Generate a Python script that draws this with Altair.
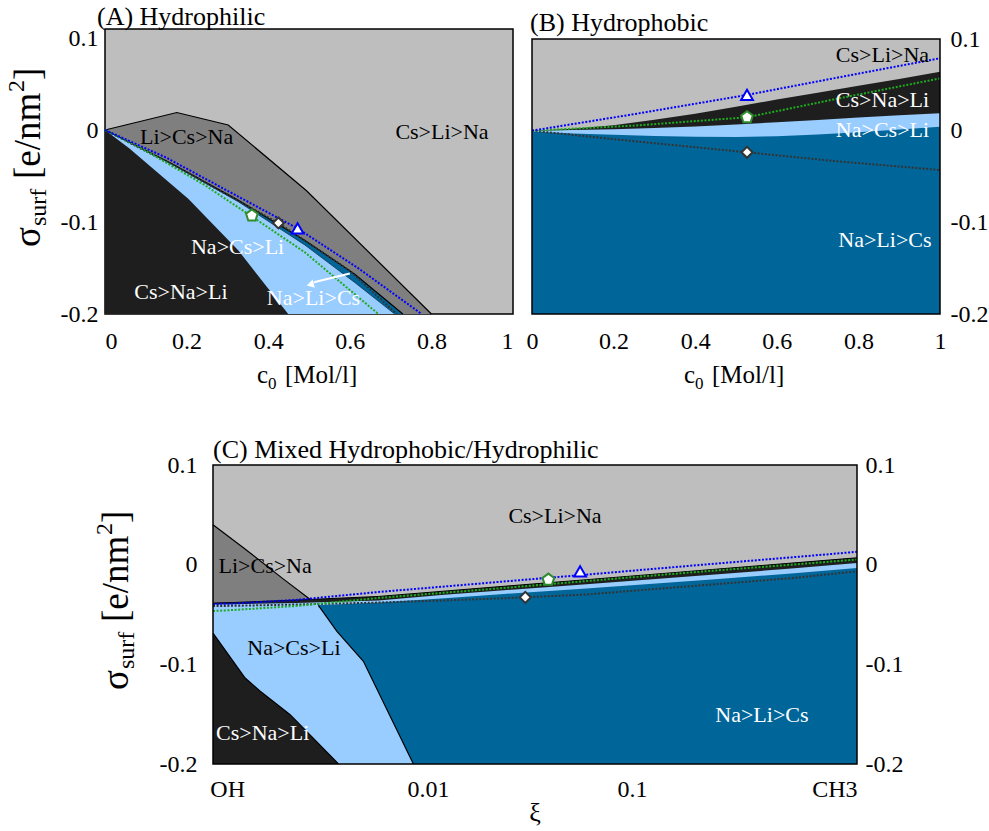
import altair as alt
import pandas as pd

FONT = "Liberation Serif"
COL_LGRAY = "#bebebe"; COL_MGRAY = "#7f7f7f"; COL_BLACK = "#1e1e1e"
COL_LBLUE = "#99ccff"; COL_DBLUE = "#006699"
COL_BLUEDOT = "#0000ff"; COL_GREENDOT = "#1faa1f"; COL_DARKDOT = "#333333"; COL_PENT = "#2e8b2e"

# ---------------- axes ----------------
Y_TICKS = [-0.2, -0.1, 0, 0.1]
AB_X_TICKS = [0, 0.2, 0.4, 0.6, 0.8, 1]
C_X_TICKS = [0.001, 0.01, 0.1, 1]
C_X_LABELS = ["OH", "0.01", "0.1", "CH3"]
C_X_LABEL_SHIFT = [-6, -13, -17, 0]

TITLE_A = "(A) Hydrophilic"
TITLE_B = "(B) Hydrophobic"
TITLE_C = "(C) Mixed Hydrophobic/Hydrophilic"
XTITLE_AB = ["c", "0", "[Mol/l]"]
XTITLE_C = "ξ"
YTITLE = ["σ", "surf", "[e/nm", "2", "]"]

# ---------------- panel A ----------------
A_B1_X = [0, 0.176, 0.302, 0.494, 0.80]
A_B1_Y = [0, 0.019, 0.0055, -0.066, -0.2]
A_B2_X = [0, 0.163, 0.327, 0.49, 0.613, 0.73]
A_B2_Y = [0, -0.0364, -0.0765, -0.120, -0.157, -0.2]
A_B3_X = [0, 0.163, 0.327, 0.49, 0.613, 0.71]
A_B3_Y = [0, -0.037, -0.078, -0.125, -0.166, -0.2]
A_B4_X = [0, 0.06, 0.123, 0.204, 0.327, 0.449]
A_B4_Y = [0, -0.02, -0.044, -0.0747, -0.131, -0.2]
A_BLUE_X = [0, 0.15, 0.3, 0.472, 0.62, 0.776]
A_BLUE_Y = [0, -0.03, -0.066, -0.107, -0.150, -0.2]
A_GREEN_X = [0, 0.082, 0.245, 0.36, 0.49, 0.67]
A_GREEN_Y = [0, -0.018, -0.060, -0.094, -0.133, -0.2]
A_DARK_X = [0, 0.2, 0.425, 0.6, 0.715]
A_DARK_Y = [0, -0.046, -0.101, -0.153, -0.2]
A_TRI = ([0.472], [-0.107])
A_PENT = ([0.36], [-0.093])
A_DIAM = ([0.425], [-0.101])
A_ARROW_X = [0.60, 0.512]
A_ARROW_Y = [-0.156, -0.1655]
A_HEAD = ([0.503], [-0.168])
A_LAB_BLACK = ["Li>Cs>Na", "Cs>Li>Na"]
A_LAB_BLACK_X = [0.200, 0.826]
A_LAB_BLACK_Y = [-0.0073, -0.0018]
A_LAB_WHITE = ["Na>Cs>Li", "Cs>Na>Li", "Na>Li>Cs"]
A_LAB_WHITE_X = [0.325, 0.186, 0.511]
A_LAB_WHITE_Y = [-0.1268, -0.1758, -0.183]

# ---------------- panel B ----------------
B_X = [0, 0.1, 0.2, 0.3, 0.4, 0.5, 0.6, 0.7, 0.8, 0.9, 1.0]
B_TOP = [0, 0.0022, 0.006, 0.012, 0.0185, 0.026, 0.034, 0.0415, 0.049, 0.0565, 0.0644]
B_MID = [0, 0.0007, 0.0016, 0.0028, 0.0045, 0.0068, 0.0092, 0.0117, 0.0144, 0.0168, 0.019]
B_BOT = [-0.001, -0.003, -0.0045, -0.0057, -0.0065, -0.0068, -0.006, -0.0042, -0.0018, 0.0012, 0.0044]
B_DOT_X = [0, 0.25, 0.527, 0.75, 1.0]
B_BLUE_Y = [0, 0.018, 0.039, 0.058, 0.079]
B_GREEN_Y = [0, 0.0055, 0.0146, 0.035, 0.057]
B_DARK_Y = [0, -0.0115, -0.0236, -0.0335, -0.0429]
B_TRI = ([0.527], [0.039])
B_PENT = ([0.527], [0.0146])
B_DIAM = ([0.527], [-0.0236])
B_LAB_BLACK = ["Cs>Li>Na"]
B_LAB_BLACK_X = [0.859]
B_LAB_BLACK_Y = [0.0826]
B_LAB_WHITE = ["Cs>Na>Li", "Na>Cs>Li", "Na>Li>Cs"]
B_LAB_WHITE_X = [0.859, 0.859, 0.865]
B_LAB_WHITE_Y = [0.0335, 0.0007, -0.1193]

# ---------------- panel C ----------------
C_X = [0.0008, 0.001, 0.002, 0.005, 0.01, 0.02, 0.05, 0.1, 0.2, 0.5, 1.0]
C_BK_TOP = [-0.0385, -0.0380, -0.0355, -0.0319, -0.0268, -0.0217, -0.0151, -0.0100, -0.0049, 0.0018, 0.0069]
C_BK_BOT = [-0.0400, -0.0397, -0.0385, -0.0359, -0.0304, -0.0257, -0.0196, -0.0149, -0.0101, -0.0036, 0.0017]
C_BLUE_Y = [-0.0395, -0.0390, -0.0354, -0.0274, -0.0222, -0.0169, -0.0100, -0.0046, 0.0007, 0.0076, 0.0129]
C_GREEN_Y = [-0.0465, -0.0455, -0.0415, -0.0334, -0.0284, -0.0234, -0.0164, -0.0112, -0.0061, 0.0002, 0.0052]
C_DARK_Y = [-0.0415, -0.0413, -0.0400, -0.0380, -0.0360, -0.0337, -0.0299, -0.0249, -0.0199, -0.0133, -0.0067]
C_D1_X = [0.0008, 0.00112, 0.001746, 0.00234]
C_D1_Y = [0.040, 0.0170, -0.0145, -0.0348]
C_LB_X = [0.00257, 0.005, 0.01, 0.02, 0.05, 0.1, 0.2, 0.5, 1.0]
C_LB_Y = [-0.0408, -0.0380, -0.0339, -0.0294, -0.0239, -0.0194, -0.0149, -0.0087, -0.0033]
C_STEEP_X = [0.00257, 0.003155, 0.00423, 0.00736]
C_STEEP_Y = [-0.0408, -0.0669, -0.097, -0.2]
C_CNL_X = [0.0008, 0.001142, 0.00135, 0.00188, 0.00321]
C_CNL_Y = [-0.0686, -0.1137, -0.127, -0.1505, -0.2]
C_TRI = ([0.0466], [-0.0067])
C_PENT = ([0.0328], [-0.0151])
C_DIAM = ([0.0254], [-0.0328])
C_LAB_BLACK = ["Cs>Li>Na", "Li>Cs>Na", "Na>Cs>Li"]
C_LAB_BLACK_X = [0.0353, 0.001425, 0.00196]
C_LAB_BLACK_Y = [0.0488, -0.0016, -0.0836]
C_LAB_WHITE = ["Cs>Na>Li", "Na>Li>Cs"]
C_LAB_WHITE_X = [0.001387, 0.349]
C_LAB_WHITE_Y = [-0.1689, -0.1508]

PENTAGON = "M0,-1L0.951,-0.309L0.588,0.809L-0.588,0.809L-0.951,-0.309Z"
DUMMY = pd.DataFrame({"d": [0]})


def df(xs, ys, labels=None):
    d = {"x": xs, "y": ys}
    if labels is not None:
        d["label"] = labels
    return pd.DataFrame(d)


LAB = dict(labelFont=FONT, labelFontSize=24, labelColor="black", ticks=False,
           domain=False, grid=False, title=None)
YEXPR = "toString(datum.value)"

# scales (panel C's plot starts 108 px into its view)
SX_AB = alt.Scale(domain=[0, 1], nice=False, zero=False)
SY_A = alt.Scale(domain=[-0.2, 0.1098], nice=False, zero=False)
SY_B = alt.Scale(domain=[-0.2, 0.1], range=[285, 10], nice=False, zero=False)
SX_C = alt.Scale(type="log", domain=[0.0008, 1], range=[108, 752], nice=False)
SY_C = alt.Scale(domain=[-0.2, 0.1], nice=False, zero=False)

c_xexpr = " : ".join(f"datum.value == {v} ? '{l}'" for v, l in zip(C_X_TICKS, C_X_LABELS)) + " : ''"
c_xoff = {"condition": [{"test": f"datum.value == {v}", "value": s}
                        for v, s in zip(C_X_TICKS, C_X_LABEL_SHIFT) if s != 0], "value": 0}

AX = {
    "A": (alt.Axis(values=AB_X_TICKS, labelExpr=YEXPR, labelPadding=15, orient="bottom", **LAB),
          alt.Axis(values=Y_TICKS, labelExpr=YEXPR, labelPadding=7, orient="left", **LAB)),
    "B": (alt.Axis(values=AB_X_TICKS, labelExpr=YEXPR, labelPadding=15, orient="bottom",
                   labelFlush=False, **LAB),
          alt.Axis(values=Y_TICKS, labelExpr=YEXPR, labelPadding=10, orient="right", **LAB)),
    "C": (alt.Axis(values=C_X_TICKS, labelExpr=c_xexpr, labelPadding=13, orient="bottom",
                   labelOffset=c_xoff, **LAB),
          None),
}
C_YAXIS_L = alt.Axis(values=Y_TICKS, labelExpr=YEXPR, labelPadding=16, orient="left",
                     offset=-108, **LAB)
C_YAXIS_R = alt.Axis(values=Y_TICKS, labelExpr=YEXPR, labelPadding=8, orient="right", **LAB)
SC = {"A": (SX_AB, SY_A), "B": (SX_AB, SY_B), "C": (SX_C, SY_C)}


def X(p):
    return alt.X("x:Q", scale=SC[p][0], axis=AX[p][0])


def Y(p, yaxis="auto"):
    if yaxis == "auto":
        return alt.Y("y:Q", scale=SC[p][1], axis=AX[p][1])
    return alt.Y("y:Q", scale=SC[p][1], axis=yaxis)


def area_down(p, xs, ys, color, yaxis="auto"):
    return alt.Chart(df(xs, ys)).mark_area(color=color, opacity=1).encode(
        x=X(p), y=Y(p, yaxis), y2=alt.datum(-0.2))


def line(p, xs, ys, color, width=1.2, dash=None):
    kw = dict(color=color, strokeWidth=width)
    if dash:
        kw["strokeDash"] = dash
    return alt.Chart(df(xs, ys)).mark_line(**kw).encode(x=X(p), y=Y(p))


def marker(p, pt, shape, stroke, size):
    return alt.Chart(df(pt[0], pt[1])).mark_point(
        shape=shape, filled=True, fill="white", stroke=stroke, strokeWidth=2,
        size=size, opacity=1).encode(x=X(p), y=Y(p))


def labels(p, xs, ys, texts, color):
    return alt.Chart(df(xs, ys, texts)).mark_text(
        font=FONT, fontSize=22, color=color).encode(x=X(p), y=Y(p), text="label:N")


def ptext(txt, px, py, size, angle=0, align="left", color="black"):
    kw = dict(text=txt, font=FONT, fontSize=size, align=align, baseline="alphabetic", color=color)
    if angle:
        kw["angle"] = angle
    return alt.Chart(DUMMY).mark_text(**kw).encode(x=alt.value(px), y=alt.value(py))


def anchor(px, py):
    # invisible point that fixes the layout bounds of a panel
    return alt.Chart(DUMMY).mark_point(opacity=0, size=1).encode(x=alt.value(px), y=alt.value(py))


def ytitle(bx, by):
    offs = [(0, 0, 37), (6, -21, 24), (0, -68, 37), (-16, -155, 24), (0, -167, 37)]
    return [ptext(t, bx + dx, by + dy, fs, angle=270) for t, (dx, dy, fs) in zip(YTITLE, offs)]


def xtitle_ab():
    return [ptext(XTITLE_AB[0], 152, 354, 25), ptext(XTITLE_AB[1], 163, 360, 17),
            ptext(XTITLE_AB[2], 180, 354, 25)]


DOT = [2, 1.6]

# ---------------- build A ----------------
layersA = [
    area_down("A", A_B1_X, A_B1_Y, COL_MGRAY),
    area_down("A", A_B2_X, A_B2_Y, COL_DBLUE),
    area_down("A", A_B3_X, A_B3_Y, COL_LBLUE),
    area_down("A", A_B4_X, A_B4_Y, COL_BLACK),
    line("A", A_B1_X, A_B1_Y, "black"),
    line("A", A_B2_X, A_B2_Y, "black"),
    line("A", A_B3_X, A_B3_Y, "#0b3550", 0.8),
    line("A", A_DARK_X, A_DARK_Y, COL_DARKDOT, 2, DOT),
    line("A", A_GREEN_X, A_GREEN_Y, COL_GREENDOT, 2, DOT),
    line("A", A_BLUE_X, A_BLUE_Y, COL_BLUEDOT, 2, DOT),
    line("A", A_ARROW_X, A_ARROW_Y, "white", 2),
    alt.Chart(df(*A_HEAD)).mark_point(shape="triangle-left", filled=True, color="white",
                                      size=70, angle=345, opacity=1).encode(x=X("A"), y=Y("A")),
    marker("A", A_PENT, PENTAGON, COL_PENT, 150),
    marker("A", A_DIAM, "diamond", COL_DARKDOT, 120),
    marker("A", A_TRI, "triangle-up", COL_BLUEDOT, 140),
    labels("A", A_LAB_BLACK_X, A_LAB_BLACK_Y, A_LAB_BLACK, "black"),
    labels("A", A_LAB_WHITE_X, A_LAB_WHITE_Y, A_LAB_WHITE, "white"),
    ptext(TITLE_A, -8, -4.5, 26),
    anchor(-105, -29), anchor(-105, 370),
] + xtitle_ab() + ytitle(-65, 218)
A = alt.layer(*layersA).properties(
    width=408, height=285,
    view=alt.ViewBackground(fill=COL_LGRAY, stroke="black", strokeWidth=1.5))

# ---------------- build B ----------------
layersB = [
    alt.Chart(DUMMY).mark_rect(color=COL_LGRAY).encode(
        x=alt.X(datum=0, scale=SX_AB, axis=AX["B"][0]), x2=alt.datum(1),
        y=alt.Y(datum=-0.2, scale=SY_B, axis=AX["B"][1]), y2=alt.datum(0.1)),
    area_down("B", B_X, B_TOP, COL_BLACK),
    area_down("B", B_X, B_MID, COL_LBLUE),
    area_down("B", B_X, B_BOT, COL_DBLUE),
    line("B", B_DOT_X, B_DARK_Y, COL_DARKDOT, 2, DOT),
    line("B", B_DOT_X, B_GREEN_Y, COL_GREENDOT, 2, DOT),
    line("B", B_DOT_X, B_BLUE_Y, COL_BLUEDOT, 2, DOT),
    marker("B", B_PENT, PENTAGON, COL_PENT, 150),
    marker("B", B_DIAM, "diamond", COL_DARKDOT, 120),
    marker("B", B_TRI, "triangle-up", COL_BLUEDOT, 140),
    labels("B", B_LAB_BLACK_X, B_LAB_BLACK_Y, B_LAB_BLACK, "black"),
    labels("B", B_LAB_WHITE_X, B_LAB_WHITE_Y, B_LAB_WHITE, "white"),
    alt.Chart(DUMMY).mark_rect(fillOpacity=0, stroke="black", strokeWidth=1.5).encode(
        x=alt.X(datum=0, scale=SX_AB, axis=AX["B"][0]), x2=alt.datum(1),
        y=alt.Y(datum=-0.2, scale=SY_B, axis=AX["B"][1]), y2=alt.datum(0.1)),
    ptext(TITLE_B, -2, 1.5, 26),
] + xtitle_ab()
B = alt.layer(*layersB).properties(
    width=408, height=285, view=alt.ViewBackground(stroke="transparent"))

# ---------------- build C ----------------
C_XDOM = [0.0008, 1.0]
layersC = [
    alt.Chart(DUMMY).mark_rect(color=COL_LGRAY).encode(
        x=alt.X(datum=C_XDOM[0], scale=SX_C, axis=AX["C"][0]), x2=alt.datum(C_XDOM[1]),
        y=alt.Y(datum=-0.2, scale=SY_C, axis=C_YAXIS_L), y2=alt.datum(0.1)),
    alt.Chart(df(C_D1_X, C_D1_Y)).mark_area(color=COL_MGRAY, opacity=1).encode(
        x=X("C"), y=Y("C", C_YAXIS_R), y2=alt.datum(-0.2)),
    area_down("C", C_X, C_BK_TOP, COL_BLACK),
    area_down("C", C_X, C_BK_BOT, COL_LBLUE),
    alt.Chart(df(C_STEEP_X, C_STEEP_Y)).mark_area(orient="horizontal", color=COL_DBLUE, opacity=1).encode(
        y=Y("C"), x=X("C"), x2=alt.datum(C_XDOM[1])),
    alt.Chart(df(C_LB_X, C_LB_Y)).mark_area(color=COL_DBLUE, opacity=1).encode(
        x=X("C"), y=Y("C"), y2=alt.datum(C_STEEP_Y[0] - 0.002)),
    area_down("C", C_CNL_X, C_CNL_Y, COL_BLACK),
    line("C", C_D1_X, C_D1_Y, "black"),
    line("C", C_X, C_BK_TOP, "black", 1.0),
    line("C", C_STEEP_X, C_STEEP_Y, "black"),
    line("C", C_CNL_X, C_CNL_Y, "black"),
    line("C", C_X, C_DARK_Y, COL_DARKDOT, 2, DOT),
    line("C", C_X, C_GREEN_Y, COL_GREENDOT, 2, DOT),
    line("C", C_X, C_BLUE_Y, COL_BLUEDOT, 2, DOT),
    marker("C", C_PENT, PENTAGON, COL_PENT, 150),
    marker("C", C_DIAM, "diamond", COL_DARKDOT, 120),
    marker("C", C_TRI, "triangle-up", COL_BLUEDOT, 140),
    labels("C", C_LAB_BLACK_X, C_LAB_BLACK_Y, C_LAB_BLACK, "black"),
    labels("C", C_LAB_WHITE_X, C_LAB_WHITE_Y, C_LAB_WHITE, "white"),
    alt.Chart(DUMMY).mark_rect(fillOpacity=0, stroke="black", strokeWidth=1.5).encode(
        x=alt.X(datum=C_XDOM[0], scale=SX_C, axis=AX["C"][0]), x2=alt.datum(C_XDOM[1]),
        y=alt.Y(datum=-0.2, scale=SY_C, axis=None), y2=alt.datum(0.1)),
    ptext(TITLE_C, 108, -7, 26),
    ptext(XTITLE_C, 430, 356, 26, align="center"),
    anchor(-105, -40),
] + ytitle(23, 225)
C = alt.layer(*layersC).resolve_axis(y="independent").properties(
    width=752, height=299, view=alt.ViewBackground(stroke="transparent"))

top_row = alt.hconcat(A, B, spacing=19, bounds="flush")
chart = alt.vconcat(top_row, C, spacing=23).properties(
    autosize=alt.AutoSizeParams(type="none"),
    padding={"left": 105, "top": 29, "right": 884, "bottom": 802},
    background="white")

chart.save("out.html", embed_options={"renderer": "svg", "actions": False})
